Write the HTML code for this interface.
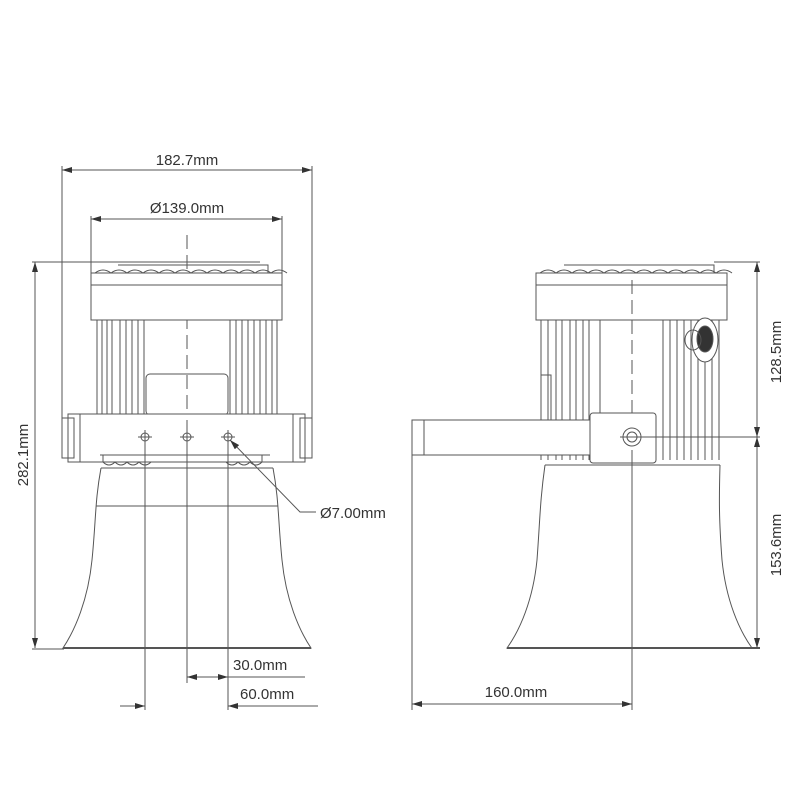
<!DOCTYPE html>
<html><head><style>body{margin:0;background:#fff}svg{display:block}text{font-family:"Liberation Sans",sans-serif;fill:#333}</style></head>
<body>
<svg width="800" height="800" viewBox="0 0 800 800" xmlns="http://www.w3.org/2000/svg">
<defs><marker id="a" viewBox="0 0 10 6" refX="10" refY="3" markerWidth="10" markerHeight="6" orient="auto-start-reverse"><path d="M0,0L10,3L0,6z" fill="#333"/></marker></defs>
<g stroke="#555" stroke-width="1" fill="none">
<!-- LEFT VIEW -->
<!-- dims -->
<line x1="62" y1="170" x2="312" y2="170" marker-start="url(#a)" marker-end="url(#a)"/>
<line x1="62" y1="166" x2="62" y2="445"/><line x1="312" y1="166" x2="312" y2="445"/>
<line x1="91" y1="219" x2="282" y2="219" marker-start="url(#a)" marker-end="url(#a)"/>
<line x1="91" y1="216" x2="91" y2="318"/><line x1="282" y1="216" x2="282" y2="318"/>
<line x1="35" y1="262" x2="35" y2="648" marker-start="url(#a)" marker-end="url(#a)"/>
<line x1="32" y1="262" x2="260" y2="262"/><line x1="32" y1="649" x2="64" y2="649"/>
<line x1="187" y1="235" x2="187" y2="420" stroke-dasharray="14,6"/>
<!-- cap -->
<path d="M118,265h150v8"/>
<rect x="91" y="273" width="191" height="47" fill="#fff"/>
<line x1="91" y1="285" x2="282" y2="285"/>
<path d="M95,273q8,-6 16,0q8,-6 16,0q8,-6 16,0q8,-6 16,0q8,-6 16,0q8,-6 16,0q8,-6 16,0q8,-6 16,0q8,-6 16,0q8,-6 16,0q8,-6 16,0q8,-6 16,0"/>
<!-- fins -->
<path d="M97,320v95M102,320v95M107,320v95M112,320v95M120,320v95M126,320v95M132,320v95M138,320v95M144,320v95"/>
<path d="M230,320v95M236,320v95M242,320v95M248,320v95M254,320v95M260,320v95M266,320v95M272,320v95M277,320v95"/>
<rect x="146" y="374" width="82" height="41" rx="4"/>
<!-- bracket -->
<rect x="68" y="414" width="237" height="48" fill="#fff"/>
<rect x="62" y="418" width="12" height="40"/><rect x="300" y="418" width="12" height="40"/>
<line x1="80" y1="414" x2="80" y2="462"/><line x1="293" y1="414" x2="293" y2="462"/>
<line x1="100" y1="455" x2="270" y2="455"/>
<path d="M103,455v7q6,6 12,0q6,6 12,0q6,6 12,0q6,6 12,0M226,462q6,6 12,0q6,6 12,0q6,6 12,0v-7"/>
<circle cx="145" cy="437" r="4"/><circle cx="187" cy="437" r="4"/><circle cx="228" cy="437" r="4"/>
<line x1="138" y1="437" x2="152" y2="437"/><line x1="180" y1="437" x2="194" y2="437"/><line x1="221" y1="437" x2="235" y2="437"/>
<!-- horn -->
<path d="M101,468H273M96,506H278M101,468C95,500 96,520 92,560C88,600 75,630 63,648H311C299,630 286,600 282,560C278,520 279,500 273,468"/>
<line x1="63" y1="648" x2="311" y2="648" stroke-width="2"/>
<!-- lower dims -->
<line x1="187" y1="420" x2="187" y2="683"/>
<line x1="145" y1="430" x2="145" y2="710"/><line x1="228" y1="430" x2="228" y2="710"/>
<line x1="207" y1="677" x2="228" y2="677" marker-end="url(#a)"/><line x1="207" y1="677" x2="187" y2="677" marker-end="url(#a)"/>
<line x1="228" y1="677" x2="305" y2="677"/>
<line x1="120" y1="706" x2="145" y2="706" marker-end="url(#a)"/><line x1="318" y1="706" x2="228" y2="706"/>
<line x1="250" y1="706" x2="228" y2="706" marker-end="url(#a)"/>
<path d="M230,440L300,512H316" marker-start="url(#a)"/>
<!-- RIGHT VIEW -->
<path d="M564,265h150v8"/>
<line x1="714" y1="262" x2="760" y2="262"/>
<rect x="536" y="273" width="191" height="47" fill="#fff"/>
<line x1="536" y1="285" x2="727" y2="285"/>
<path d="M540,273q8,-6 16,0q8,-6 16,0q8,-6 16,0q8,-6 16,0q8,-6 16,0q8,-6 16,0q8,-6 16,0q8,-6 16,0q8,-6 16,0q8,-6 16,0q8,-6 16,0q8,-6 16,0"/>
<path d="M541,320v140M548,320v140M556,320v140M562,320v140M570,320v140M576,320v140M583,320v140M589,320v140M600,320v95"/>
<path d="M663,320v140M670,320v140M677,320v140M684,320v140M691,320v140M698,320v140M705,320v140M712,320v140M719,320v140"/>
<rect x="541" y="375" width="10" height="45"/>
<ellipse cx="705" cy="340" rx="13" ry="22" fill="#fff"/><ellipse cx="705" cy="339" rx="8" ry="13" fill="#333"/>
<ellipse cx="693" cy="340" rx="8" ry="10"/>
<line x1="632" y1="280" x2="632" y2="420" stroke-dasharray="14,6"/>
<rect x="412" y="420" width="178" height="35" fill="#fff"/>
<line x1="424" y1="420" x2="424" y2="455"/>
<rect x="590" y="413" width="66" height="50" rx="3" fill="#fff"/>
<circle cx="632" cy="437" r="9"/><circle cx="632" cy="437" r="5"/>
<line x1="620" y1="437" x2="760" y2="437"/>
<path d="M545,465H720M545,465C540,500 540,520 537,560C533,600 520,630 507,648H752C739,630 726,600 722,560C719,520 719,500 720,465"/>
<line x1="507" y1="648" x2="760" y2="648" stroke-width="2"/>
<line x1="632" y1="450" x2="632" y2="710"/>
<line x1="757" y1="262" x2="757" y2="437" marker-start="url(#a)" marker-end="url(#a)"/>
<line x1="757" y1="437" x2="757" y2="648" marker-start="url(#a)" marker-end="url(#a)"/>
<line x1="412" y1="455" x2="412" y2="710"/>
<line x1="412" y1="704" x2="632" y2="704" marker-start="url(#a)" marker-end="url(#a)"/>
</g>
<g font-size="15">
<text x="187" y="165" text-anchor="middle">182.7mm</text>
<text x="187" y="213" text-anchor="middle">Ø139.0mm</text>
<text x="0" y="0" text-anchor="middle" transform="translate(28,455) rotate(-90)">282.1mm</text>
<text x="320" y="518">Ø7.00mm</text>
<text x="233" y="670">30.0mm</text>
<text x="240" y="699">60.0mm</text>
<text x="0" y="0" text-anchor="middle" transform="translate(781,352) rotate(-90)">128.5mm</text>
<text x="0" y="0" text-anchor="middle" transform="translate(781,545) rotate(-90)">153.6mm</text>
<text x="516" y="697" text-anchor="middle">160.0mm</text>
</g>
</svg>
</body></html>
